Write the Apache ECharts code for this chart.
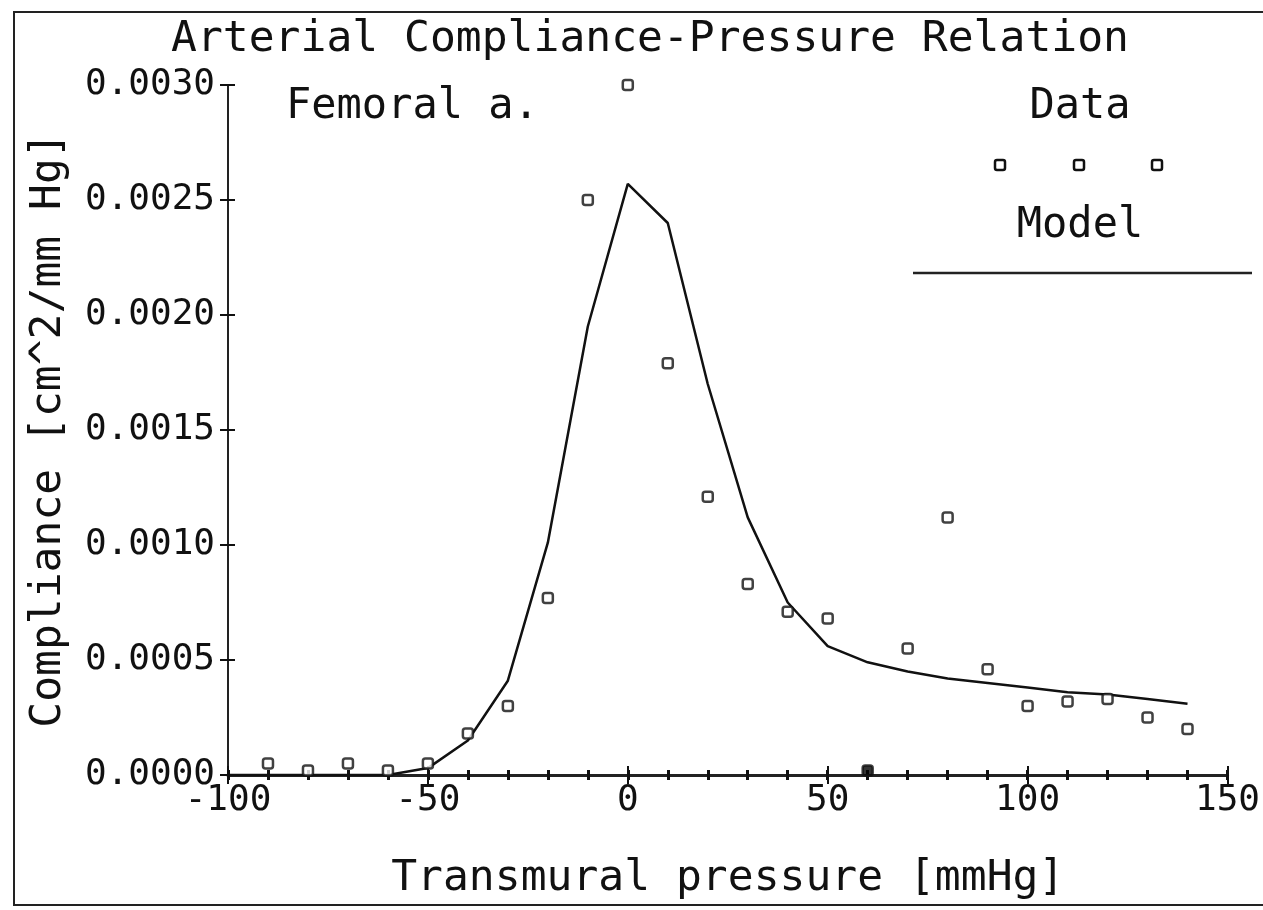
<!DOCTYPE html>
<html>
<head>
<meta charset="utf-8">
<script src="https://cdn.jsdelivr.net/npm/echarts@6/dist/echarts.min.js"></script>
<style>
html,body{margin:0;padding:0;background:#fff;}
#chart{width:1263px;height:910px;}
</style>
</head>
<body>
<div id="chart"></div>
<script>
// Measured data (circles)
const dataX = [-90, -80, -70, -60, -50, -40, -30, -20, -10, 0, 10, 20, 30, 40, 50, 60, 70, 80, 90, 100, 110, 120, 130, 140];
const dataY = [0.00005, 0.00002, 0.00005, 0.00002, 0.00005, 0.00018, 0.00030, 0.00077, 0.00250, 0.00300, 0.00179, 0.00121, 0.00083, 0.00071, 0.00068, 0.00002, 0.00055, 0.00112, 0.00046, 0.00030, 0.00032, 0.00033, 0.00025, 0.00020];
// Model curve
const modelX = [-100, -90, -80, -70, -60, -50, -40, -30, -20, -10, 0, 10, 20, 30, 40, 50, 60, 70, 80, 90, 100, 110, 120, 130, 140];
const modelY = [0, 0, 0, 0, 0, 0.00003, 0.00015, 0.00041, 0.00101, 0.00195, 0.00257, 0.00240, 0.00170, 0.00112, 0.00075, 0.00056, 0.00049, 0.00045, 0.00042, 0.00040, 0.00038, 0.00036, 0.00035, 0.00033, 0.00031];
// Axis ticks
const xTicks = [-100, -50, 0, 50, 100, 150];
const xMinorStep = 10;
const yTicks = ['0.0000', '0.0005', '0.0010', '0.0015', '0.0020', '0.0025', '0.0030'];
const filledX = 60;

const FONT = '"DejaVu Sans Mono", "Liberation Mono", monospace';
const chart = echarts.init(document.getElementById('chart'), null, {renderer: 'canvas'});

const scatterData = dataX.map((x, i) => {
  const d = {value: [x, dataY[i]]};
  if (x === filledX) d.itemStyle = {color: '#000'};
  return d;
});
const lineData = modelX.map((x, i) => [x, modelY[i]]);

const xMin = xTicks[0], xMax = xTicks[xTicks.length - 1], xInt = xTicks[1] - xTicks[0];
const yMin = +yTicks[0], yMax = +yTicks[yTicks.length - 1], yInt = +yTicks[1] - +yTicks[0];

const baseX = {
  type: 'value', min: xMin, max: xMax, interval: xInt, position: 'bottom',
  splitLine: {show: false}
};
const baseY = {
  type: 'value', min: yMin, max: yMax, interval: yInt, position: 'left',
  splitLine: {show: false}
};
const hiddenX = (interval, inside, len, w) => Object.assign({}, baseX, {
  interval: interval,
  axisLine: {show: false, onZero: false},
  axisTick: {show: true, inside: inside, length: len, lineStyle: {color: '#111', width: w}},
  axisLabel: {show: false}
});

chart.setOption({
  backgroundColor: '#fff',
  animation: false,
  title: {
    text: 'Arterial Compliance-Pressure Relation',
    left: 645, top: 13, textAlign: 'center',
    textStyle: {fontFamily: FONT, fontSize: 43, fontWeight: 'normal', color: '#111'}
  },
  grid: {left: 228, right: 35, top: 85, bottom: 135},
  xAxis: [
    Object.assign({}, baseX, {
      name: 'Transmural pressure [mmHg]', nameLocation: 'middle', nameGap: 82,
      nameTextStyle: {fontFamily: FONT, fontSize: 43, color: '#111'},
      axisLine: {show: true, onZero: false, lineStyle: {color: '#222', width: 3}},
      axisTick: {show: true, inside: false, length: 9, lineStyle: {color: '#111', width: 2}},
      axisLabel: {fontFamily: FONT, fontSize: 36, color: '#111', margin: 8,
        formatter: v => String(v)}
    }),
    hiddenX(xInt, true, 9, 2),
    hiddenX(xMinorStep, true, 5, 3),
    hiddenX(xMinorStep, false, 5, 3)
  ],
  yAxis: [
    Object.assign({}, baseY, {
      name: 'Compliance [cm^2/mm Hg]', nameLocation: 'middle', nameGap: 158,
      nameTextStyle: {fontFamily: FONT, fontSize: 43, color: '#111'},
      axisLine: {show: true, onZero: false, lineStyle: {color: '#222', width: 2}},
      axisTick: {show: true, inside: false, length: 8, lineStyle: {color: '#111', width: 2}},
      axisLabel: {fontFamily: FONT, fontSize: 36, color: '#111', margin: 13,
        formatter: v => yTicks[Math.round((v - yMin) / yInt)] || v.toFixed(4)}
    }),
    Object.assign({}, baseY, {
      axisLine: {show: false, onZero: false},
      axisTick: {show: true, inside: true, length: 7, lineStyle: {color: '#111', width: 2}},
      axisLabel: {show: false}
    })
  ],
  series: [
    {
      name: 'Model', type: 'line', data: lineData, xAxisIndex: 0, yAxisIndex: 0,
      showSymbol: false, symbol: 'none', smooth: false,
      lineStyle: {color: '#111', width: 2.5}, z: 3
    },
    {
      name: 'Data', type: 'scatter', data: scatterData, xAxisIndex: 0, yAxisIndex: 0,
      symbol: 'roundRect', symbolSize: 10,
      itemStyle: {color: '#fff', borderColor: '#111', borderWidth: 2.5}, z: 4
    }
  ],
  graphic: [
    {type: 'rect', shape: {x: 14, y: 12, width: 1300, height: 893},
      style: {fill: null, stroke: '#222', lineWidth: 2}, silent: true},
    {type: 'text', left: 286, top: 86,
      style: {text: 'Femoral a.', font: '42px ' + FONT, fill: '#111'}},
    {type: 'text', x: 1080, y: 107,
      style: {text: 'Data', font: '42px ' + FONT, fill: '#111', align: 'center', verticalAlign: 'middle'}},
    {type: 'rect', shape: {x: 995, y: 160, width: 10, height: 10, r: 2},
      style: {fill: '#fff', stroke: '#111', lineWidth: 2.5}},
    {type: 'rect', shape: {x: 1074, y: 160, width: 10, height: 10, r: 2},
      style: {fill: '#fff', stroke: '#111', lineWidth: 2.5}},
    {type: 'rect', shape: {x: 1152, y: 160, width: 10, height: 10, r: 2},
      style: {fill: '#fff', stroke: '#111', lineWidth: 2.5}},
    {type: 'text', x: 1080, y: 226,
      style: {text: 'Model', font: '42px ' + FONT, fill: '#111', align: 'center', verticalAlign: 'middle'}},
    {type: 'line', shape: {x1: 913, y1: 273, x2: 1252, y2: 273},
      style: {stroke: '#222', lineWidth: 2.5}}
  ]
});
</script>
</body>
</html>
